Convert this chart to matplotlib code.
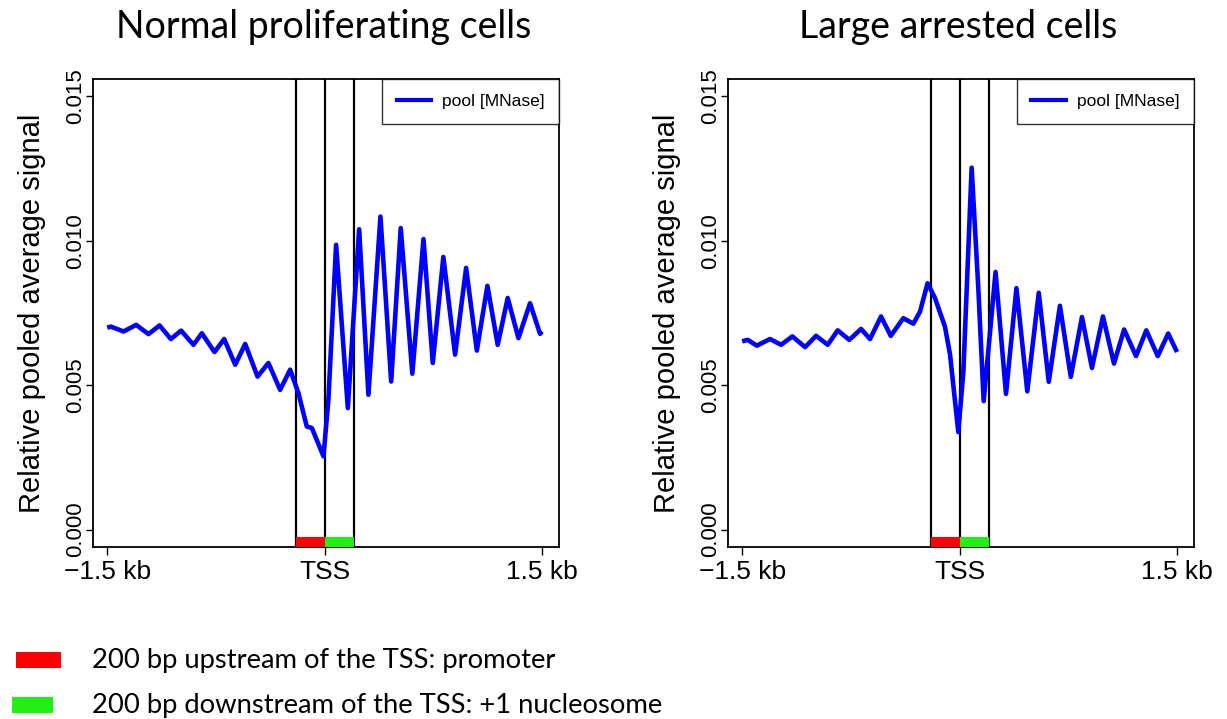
import matplotlib
matplotlib.use("Agg")
import matplotlib.pyplot as plt
from matplotlib.patches import Rectangle
from matplotlib.lines import Line2D

# Average MNase signal around the TSS (position in bp, relative pooled signal)
normal_pos = [-1500, -1475, -1387, -1300, -1215, -1139, -1061, -990, -905, -847,
              -760, -693, -617, -548, -463, -388, -307, -238, -181, -123,
              -88, -8, 26, 79, 160, 238, 302, 385, 459, 525,
              605, 682, 746, 819, 900, 976, 1050, 1123, 1194, 1263,
              1337, 1417, 1486, 1500]
normal_sig = [0.00699, 0.00703, 0.00686, 0.00709, 0.00677, 0.00707, 0.00660, 0.00689, 0.00640, 0.00680,
              0.00615, 0.00660, 0.00571, 0.00643, 0.00530, 0.00577, 0.00484, 0.00554, 0.00473, 0.00357,
              0.00352, 0.00254, 0.00450, 0.00986, 0.00421, 0.01040, 0.00467, 0.01084, 0.00513, 0.01044,
              0.00540, 0.01006, 0.00577, 0.00944, 0.00606, 0.00906, 0.00620, 0.00844, 0.00640, 0.00802,
              0.00663, 0.00784, 0.00678, 0.00686]

arrested_pos = [-1500, -1461, -1399, -1308, -1232, -1154, -1066, -990, -910, -841,
                -761, -680, -618, -542, -475, -388, -319, -273, -221, -170,
                -101, -66, -9, 26, 83, 129, 166, 248, 320, 392,
                467, 546, 615, 692, 767, 844, 913, 989, 1065, 1135,
                1217, 1288, 1367, 1439, 1500]
arrested_sig = [0.00652, 0.00657, 0.00637, 0.00660, 0.00640, 0.00669, 0.00632, 0.00671, 0.00640, 0.00690,
                0.00657, 0.00695, 0.00660, 0.00738, 0.00671, 0.00732, 0.00713, 0.00755, 0.00853, 0.00802,
                0.00703, 0.00606, 0.00338, 0.00548, 0.01253, 0.00836, 0.00445, 0.00892, 0.00470, 0.00836,
                0.00479, 0.00820, 0.00512, 0.00775, 0.00529, 0.00736, 0.00560, 0.00738, 0.00575, 0.00693,
                0.00601, 0.00690, 0.00601, 0.00679, 0.00615]

titles = ["Normal proliferating cells", "Large arrested cells"]
xticks = [-1500, 0, 1500]
xtick_labels = ["\u22121.5 kb", "TSS", "1.5 kb"]
yticks = [0.000, 0.005, 0.010, 0.015]
ytick_labels = ["0.000", "0.005", "0.010", "0.015"]
promoter = (-200, 0)
nucleosome = (0, 200)
legend_items = ["200 bp upstream of the TSS: promoter",
                "200 bp downstream of the TSS: +1 nucleosome"]

BLUE = "#0000ff"
RED = "#ff0000"
GREEN = "#22ee11"
AX_FONT = "Liberation Sans"
SLIDE_FONT = "Lato"

fig = plt.figure(figsize=(12.27, 7.19), dpi=100)


def profile_panel(left, pos, sig, title):
    ax = fig.add_axes([left, 0.2392, 0.3798, 0.6509])
    ax.plot(pos, sig, color=BLUE, lw=3.3, solid_joinstyle="round", solid_capstyle="butt")
    ax.set_xlim(-1598, 1617)
    ax.set_ylim(-0.0006, 0.0156)

    # region boundaries and the coloured strips along the bottom
    for x in (promoter[0], 0, nucleosome[1]):
        ax.axvline(x, color="black", lw=1.6, zorder=1)
    ax.add_patch(Rectangle((promoter[0], -0.0006), promoter[1] - promoter[0], 0.00033,
                           facecolor=RED, edgecolor="none", zorder=3))
    ax.add_patch(Rectangle((nucleosome[0], -0.0006), nucleosome[1] - nucleosome[0], 0.00033,
                           facecolor=GREEN, edgecolor="none", zorder=3))

    ax.set_xticks(xticks)
    ax.set_xticklabels(xtick_labels, fontsize=19, family=AX_FONT)
    ax.set_yticks(yticks)
    ax.set_yticklabels(ytick_labels, fontsize=16, family=AX_FONT, rotation=90, va="center")
    ax.tick_params(direction="out", length=6, width=1, pad=3)
    ax.tick_params(axis="y", length=5, pad=0)
    for sp in ax.spines.values():
        sp.set_linewidth(1.3)
    ax.set_ylabel("Relative pooled average signal", fontsize=21, family=AX_FONT, labelpad=14)

    handle = Line2D([], [], color=BLUE, lw=3)
    leg = ax.legend([handle], ["pool [MNase]"], loc="upper right", borderaxespad=0,
                    prop={"family": AX_FONT, "size": 12.5}, fancybox=False,
                    handlelength=2.0, handletextpad=0.6, borderpad=0.85)
    leg.get_frame().set_edgecolor("black")
    leg.get_frame().set_linewidth(1.0)

    fig.text(left + 0.3798 / 2 * 0.99, 0.962, title, fontsize=27, family=SLIDE_FONT,
             ha="center", va="center")
    return ax


profile_panel(0.0758, normal_pos, normal_sig, titles[0])
profile_panel(0.5933, arrested_pos, arrested_sig, titles[1])

# key for the coloured strips
key_colors = [RED, GREEN]
key_y = [0.082, 0.019]
key_x = [0.013, 0.010]
key_w = [0.037, 0.033]
for col, xx, ww, yy, label in zip(key_colors, key_x, key_w, key_y, legend_items):
    fig.add_artist(Rectangle((xx, yy - 0.011), ww, 0.022, transform=fig.transFigure,
                             facecolor=col, edgecolor="none"))
    fig.text(0.075, yy, label, fontsize=19.7, family=SLIDE_FONT, va="center", ha="left")

fig.savefig("out.png", dpi=100)
